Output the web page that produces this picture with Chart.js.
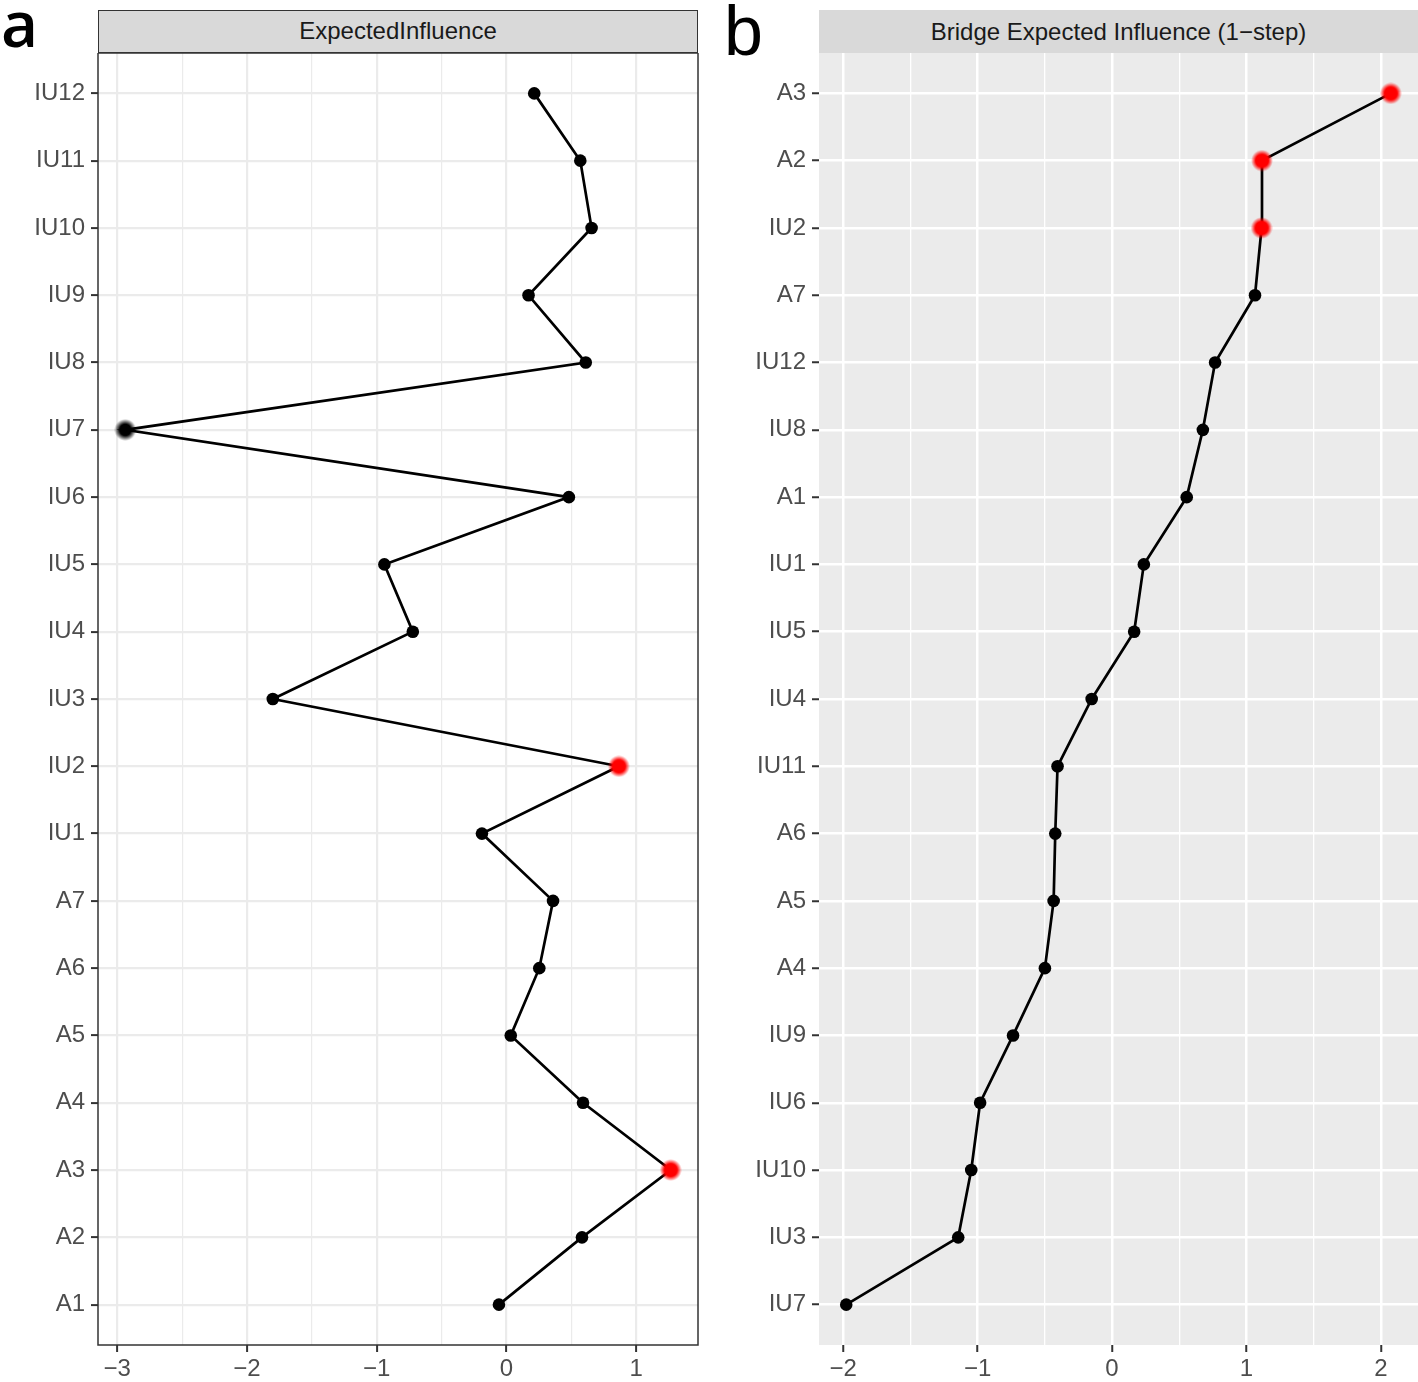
<!DOCTYPE html>
<html><head><meta charset="utf-8">
<script src="https://cdn.jsdelivr.net/npm/chart.js@4.4.1/dist/chart.umd.min.js"></script>
<style>
html,body{margin:0;padding:0;background:#fff}
body{width:1418px;height:1382px;position:relative;overflow:hidden;font-family:"Liberation Sans",Arial,Helvetica,sans-serif}
.box{position:absolute}
.strip{position:absolute;top:10px;height:43px;background:#D9D9D9;color:#1A1A1A;font-size:24px;text-align:center;line-height:43px;box-sizing:border-box;white-space:nowrap}
#stripA{left:98px;width:600px;border:1.5px solid #333;line-height:40px}
#stripB{left:819px;width:599px}
svg.labels{position:absolute;left:0;top:0}
</style></head>
<body>
<svg class="labels" width="1418" height="80">
<text x="1" y="47" font-family="Open Sans" font-weight="600" font-size="64" fill="#000">a</text>
<text x="724" y="55" font-family="Liberation Sans" font-size="70" fill="#000">b</text>
</svg>
<div class="strip" id="stripA">ExpectedInfluence</div>
<div class="strip" id="stripB">Bridge Expected Influence (1−step)</div>
<div class="box" style="left:0;top:53px;width:700px;height:1329px"><canvas id="cA"></canvas></div>
<div class="box" style="left:719px;top:53px;width:699px;height:1329px"><canvas id="cB"></canvas></div>
<script>
// ---- Panel a: ExpectedInfluence ----
const categoriesA = ['A1','A2','A3','A4','A5','A6','A7','IU1','IU2','IU3','IU4','IU5','IU6','IU7','IU8','IU9','IU10','IU11','IU12'];
const valuesA = [-0.058, 0.582, 1.266, 0.590, 0.033, 0.253, 0.359, -0.189, 0.866, -1.801, -0.722, -0.941, 0.481, -2.938, 0.611, 0.170, 0.656, 0.569, 0.214];
const majorTicksA = [-3, -2, -1, 0, 1];
const majorTickLabelsA = ['−3', '−2', '−1', '0', '1'];
const minorTicksA = [-2.5, -1.5, -0.5, 0.5];
const redPointsA = ['IU2', 'A3'];
const blackGlowPointsA = ['IU7'];

// ---- Panel b: Bridge Expected Influence (1-step) ----
const categoriesB = ['IU7','IU3','IU10','IU6','IU9','A4','A5','A6','IU11','IU4','IU5','IU1','A1','IU8','IU12','A7','IU2','A2','A3'];
const valuesB = [-1.977, -1.144, -1.047, -0.981, -0.736, -0.499, -0.434, -0.422, -0.405, -0.151, 0.165, 0.237, 0.556, 0.676, 0.767, 1.064, 1.113, 1.116, 2.074];
const majorTicksB = [-2, -1, 0, 1, 2];
const majorTickLabelsB = ['−2', '−1', '0', '1', '2'];
const minorTicksB = [-1.5, -0.5, 0.5, 1.5];
const redPointsB = ['A3', 'A2', 'IU2'];
const blackGlowPointsB = [];

Chart.defaults.font.family = '"Liberation Sans", Arial, Helvetica, sans-serif';

function glowImage(rgb, size, coreFrac) {
  const c = document.createElement('canvas');
  c.width = c.height = size;
  const g = c.getContext('2d');
  const r = size / 2;
  const grad = g.createRadialGradient(r, r, 0, r, r, r);
  grad.addColorStop(0, `rgba(${rgb},1)`);
  grad.addColorStop(coreFrac, `rgba(${rgb},1)`);
  grad.addColorStop(1, `rgba(${rgb},0)`);
  g.fillStyle = grad;
  g.beginPath(); g.arc(r, r, r, 0, Math.PI * 2); g.fill();
  return c;
}
const redGlow = glowImage('255,0,0', 22, 0.58);
const blackGlow = glowImage('0,0,0', 22, 0.52);

function expandRange(vals) {
  const mn = Math.min(...vals), mx = Math.max(...vals);
  const pad = (mx - mn) * 0.05;
  return [mn - pad, mx + pad];
}

const panelBorder = {
  id: 'panelBorder',
  afterDraw(chart, args, opts) {
    if (!opts.enabled) return;
    const a = chart.chartArea, ctx = chart.ctx;
    ctx.save();
    ctx.strokeStyle = '#333333';
    ctx.lineWidth = 1.5;
    ctx.strokeRect(a.left, a.top, a.right - a.left, a.bottom - a.top);
    ctx.restore();
  }
};
const panelBg = {
  id: 'panelBg',
  beforeDraw(chart, args, opts) {
    if (!opts.color) return;
    const a = chart.chartArea, ctx = chart.ctx;
    ctx.save();
    ctx.fillStyle = opts.color;
    ctx.fillRect(a.left, a.top, a.right - a.left, a.bottom - a.top);
    ctx.restore();
  }
};

function makeChart(id, cats, vals, majors, majorLabels, minors, reds, blacks, theme) {
  const [xmin, xmax] = expandRange(vals);
  const allTicks = majors.concat(minors).sort((a, b) => a - b);
  const isMinor = v => minors.includes(v);
  return new Chart(document.getElementById(id), {
    type: 'line',
    data: {
      datasets: [{
        data: vals.map((v, i) => ({ x: v, y: i })),
        borderColor: '#000000',
        borderWidth: 2.7,
        tension: 0,
        clip: false,
        pointRadius: 6.3,
        pointBorderWidth: 0,
        pointBackgroundColor: '#000000',
        pointStyle: ctx => {
          const c = cats[ctx.dataIndex];
          if (reds.includes(c)) return redGlow;
          if (blacks.includes(c)) return blackGlow;
          return 'circle';
        }
      }]
    },
    options: {
      responsive: true,
      maintainAspectRatio: false,
      devicePixelRatio: 1,
      animation: false,
      events: [],
      layout: { autoPadding: false, padding: { left: 0, right: theme.padRight, top: 0, bottom: 0 } },
      plugins: {
        legend: { display: false },
        tooltip: { enabled: false },
        panelBorder: { enabled: theme.border },
        panelBg: { color: theme.bg }
      },
      scales: {
        x: {
          type: 'linear',
          min: xmin, max: xmax,
          bounds: 'data',
          border: { display: false },
          afterBuildTicks: s => { s.ticks = allTicks.map(v => ({ value: v })); },
          afterFit: s => { s.height = 37; s.paddingLeft = 0; s.paddingRight = 0; },
          grid: {
            color: theme.grid,
            lineWidth: c => (c.tick && isMinor(c.tick.value)) ? theme.minorW : theme.majorW,
            tickColor: c => (c.tick && isMinor(c.tick.value)) ? 'rgba(0,0,0,0)' : '#333333',
            tickWidth: 2,
            tickLength: 7,
            drawTicks: true
          },
          ticks: {
            autoSkip: false,
            maxRotation: 0,
            padding: 3,
            color: '#4D4D4D',
            font: { size: 24 },
            callback: v => { const i = majors.indexOf(v); return i >= 0 ? majorLabels[i] : ''; }
          }
        },
        y: {
          type: 'linear',
          min: -0.6, max: cats.length - 1 + 0.6,
          bounds: 'data',
          border: { display: false },
          afterBuildTicks: s => { s.ticks = cats.map((c, i) => ({ value: i })); },
          afterFit: s => { s.width = theme.yWidth; s.paddingTop = 0; s.paddingBottom = 0; },
          grid: {
            color: theme.grid,
            lineWidth: theme.majorW,
            tickColor: '#333333',
            tickWidth: 2,
            tickLength: 7,
            drawTicks: true
          },
          ticks: {
            autoSkip: false,
            padding: 6,
            color: '#4D4D4D',
            font: { size: 24 },
            callback: v => cats[v]
          }
        }
      }
    },
    plugins: [panelBg, panelBorder]
  });
}

makeChart('cA', categoriesA, valuesA, majorTicksA, majorTickLabelsA, minorTicksA, redPointsA, blackGlowPointsA,
  { bg: '#FFFFFF', grid: '#EBEBEB', majorW: 2.2, minorW: 1.2, border: true, padRight: 2, yWidth: 98 });
makeChart('cB', categoriesB, valuesB, majorTicksB, majorTickLabelsB, minorTicksB, redPointsB, blackGlowPointsB,
  { bg: '#EBEBEB', grid: '#FFFFFF', majorW: 2.5, minorW: 1.3, border: false, padRight: 0, yWidth: 100 });
</script>
</body></html>
